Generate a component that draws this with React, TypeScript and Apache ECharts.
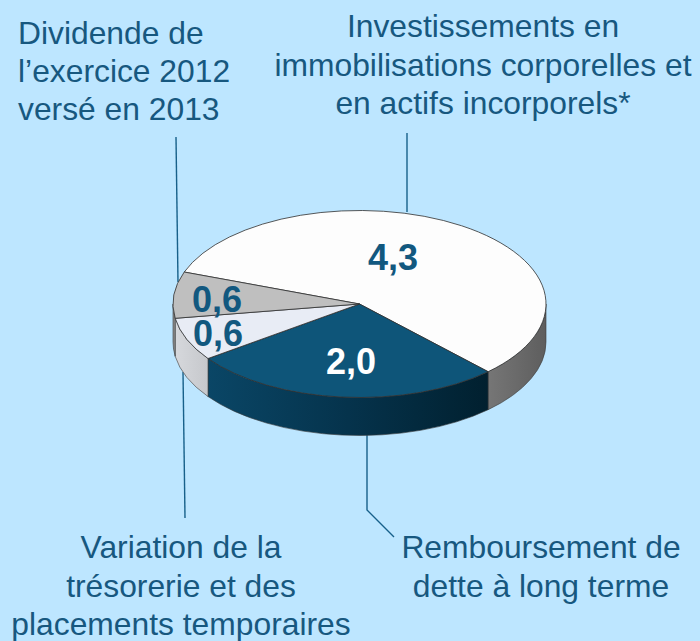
import React, { useEffect, useRef } from "react";
import * as echarts from "echarts";

const categories = [
  "Investissements en immobilisations corporelles et en actifs incorporels*",
  "Remboursement de dette à long terme",
  "Variation de la trésorerie et des placements temporaires",
  "Dividende de l’exercice 2012 versé en 2013",
];
const values = [4.3, 2.04, 0.56, 0.6];
const topColors = ["#fdfdfd", "#0e5579", "#e8ecf5", "#bfbfbf"];
const labelColors = ["#12587f", "#ffffff", "#12587f", "#12587f"];
const investLines = ["Investissements en", "immobilisations corporelles et", "en actifs incorporels*"];
const dividendLines = ["Dividende de", "l’exercice 2012", "versé en 2013"];
const variationLines = ["Variation de la", "trésorerie et des", "placements temporaires"];
const debtLines = ["Remboursement de", "dette à long terme"];

const BG = "#bde6ff";
const TEXT = "#17587f";
const CX = 359.5;
const CY = 304;
const RX = 186.5;
const RY = 93.5;
const DEPTH = 38;
const FIRST_START = 200;
const labelPos = [
  [393, 257],
  [351, 361],
  [218, 333],
  [217, 299],
];

const sideFills: any[] = [
  new echarts.graphic.LinearGradient(0, 0, 1, 0, [
    { offset: 0, color: "#767676" },
    { offset: 1, color: "#5e5e5e" },
  ]),
  new echarts.graphic.LinearGradient(0, 0, 1, 0, [
    { offset: 0, color: "#0a4666" },
    { offset: 0.5, color: "#05334c" },
    { offset: 1, color: "#01202f" },
  ]),
  new echarts.graphic.LinearGradient(0, 0, 1, 0, [
    { offset: 0, color: "#d6d8dc" },
    { offset: 1, color: "#c6c8cc" },
  ]),
  "#8e8e8e",
];

const total = values.reduce((a, b) => a + b, 0);
const starts: number[] = [];
values.reduce((acc, v, i) => {
  starts[i] = acc;
  return acc + (v / total) * 360;
}, FIRST_START);

const pt = (deg: number, dy = 0) => {
  const r = (deg * Math.PI) / 180;
  return [CX + RX * Math.cos(r), CY + dy + RY * Math.sin(r)];
};

const topPath = (a: number, b: number) => {
  const p = pt(a);
  const q = pt(b);
  const large = b - a > 180 ? 1 : 0;
  return `M${CX} ${CY}L${p[0]} ${p[1]}A${RX} ${RY} 0 ${large} 1 ${q[0]} ${q[1]}Z`;
};

const sidePath = (a: number, b: number) => {
  const p = pt(a);
  const q = pt(b);
  const q2 = pt(b, DEPTH);
  const p2 = pt(a, DEPTH);
  return `M${p[0]} ${p[1]}A${RX} ${RY} 0 0 1 ${q[0]} ${q[1]}L${q2[0]} ${q2[1]}A${RX} ${RY} 0 0 0 ${p2[0]} ${p2[1]}Z`;
};

const renderItem = (params: any, api: any) => {
  const i = params.dataIndex;
  const v = api.value(0);
  const a = starts[i];
  const b = a + (v / total) * 360;
  const children: any[] = [];
  [
    [0, 180],
    [360, 540],
  ].forEach(([lo, hi]) => {
    const s = Math.max(a, lo);
    const e = Math.min(b, hi);
    if (e > s) {
      children.push({
        type: "path",
        shape: { pathData: sidePath(s, e) },
        style: { fill: sideFills[i], stroke: "#3a3a3a", lineWidth: 0.6 },
        z2: 1,
      });
    }
  });
  children.push({
    type: "path",
    shape: { pathData: topPath(a, b) },
    style: { fill: topColors[i], stroke: "#2f2f2f", lineWidth: 0.8 },
    z2: 2,
  });
  children.push({
    type: "text",
    x: labelPos[i][0],
    y: labelPos[i][1],
    z2: 3,
    style: {
      text: v.toFixed(1).replace(".", ","),
      fill: labelColors[i],
      font: 'bold 36px "Liberation Sans", Arial, sans-serif',
      lineHeight: 30,
      align: "center",
      verticalAlign: "middle",
    },
  });
  return { type: "group", children };
};

const textBlock = (lines: string[], x: number, y0: number, step: number, align = "center") =>
  lines.map((t, k) => ({
    type: "text",
    x,
    y: y0 + k * step,
    z: 10,
    style: {
      text: t,
      fill: TEXT,
      font: '31.8px "Liberation Sans", Arial, sans-serif',
      align,
      verticalAlign: "middle",
    },
  }));

const leader = (points: number[][]) => ({
  type: "polyline",
  z: 0,
  shape: { points },
  style: { stroke: "#17608a", lineWidth: 1.4, fill: "none" },
});

export default function App() {
  const ref = useRef<HTMLDivElement>(null);
  useEffect(() => {
    document.body.style.margin = "0";
    const chart = echarts.init(ref.current!, undefined, { renderer: "svg" });
    chart.setOption({
      animation: false,
      backgroundColor: BG,
      series: [
        {
          type: "custom",
          coordinateSystem: "none",
          silent: true,
          z: 5,
          renderItem,
          data: categories.map((name, i) => ({ name, value: [values[i]] })),
        },
      ],
      graphic: [
        leader([[407, 133], [407, 212]]),
        leader([[176, 137], [178, 282]]),
        leader([[183, 372], [185, 518]]),
        leader([[367, 435], [367, 510], [394, 537]]),
        ...textBlock(investLines, 483, 26, 38.5),
        ...textBlock(dividendLines, 18, 33, 38, "left"),
        ...textBlock(variationLines, 181, 547, 38.5),
        ...textBlock(debtLines, 541, 547, 38.5),
      ],
    });
    return () => chart.dispose();
  }, []);
  return <div ref={ref} style={{ width: 700, height: 641 }} />;
}
